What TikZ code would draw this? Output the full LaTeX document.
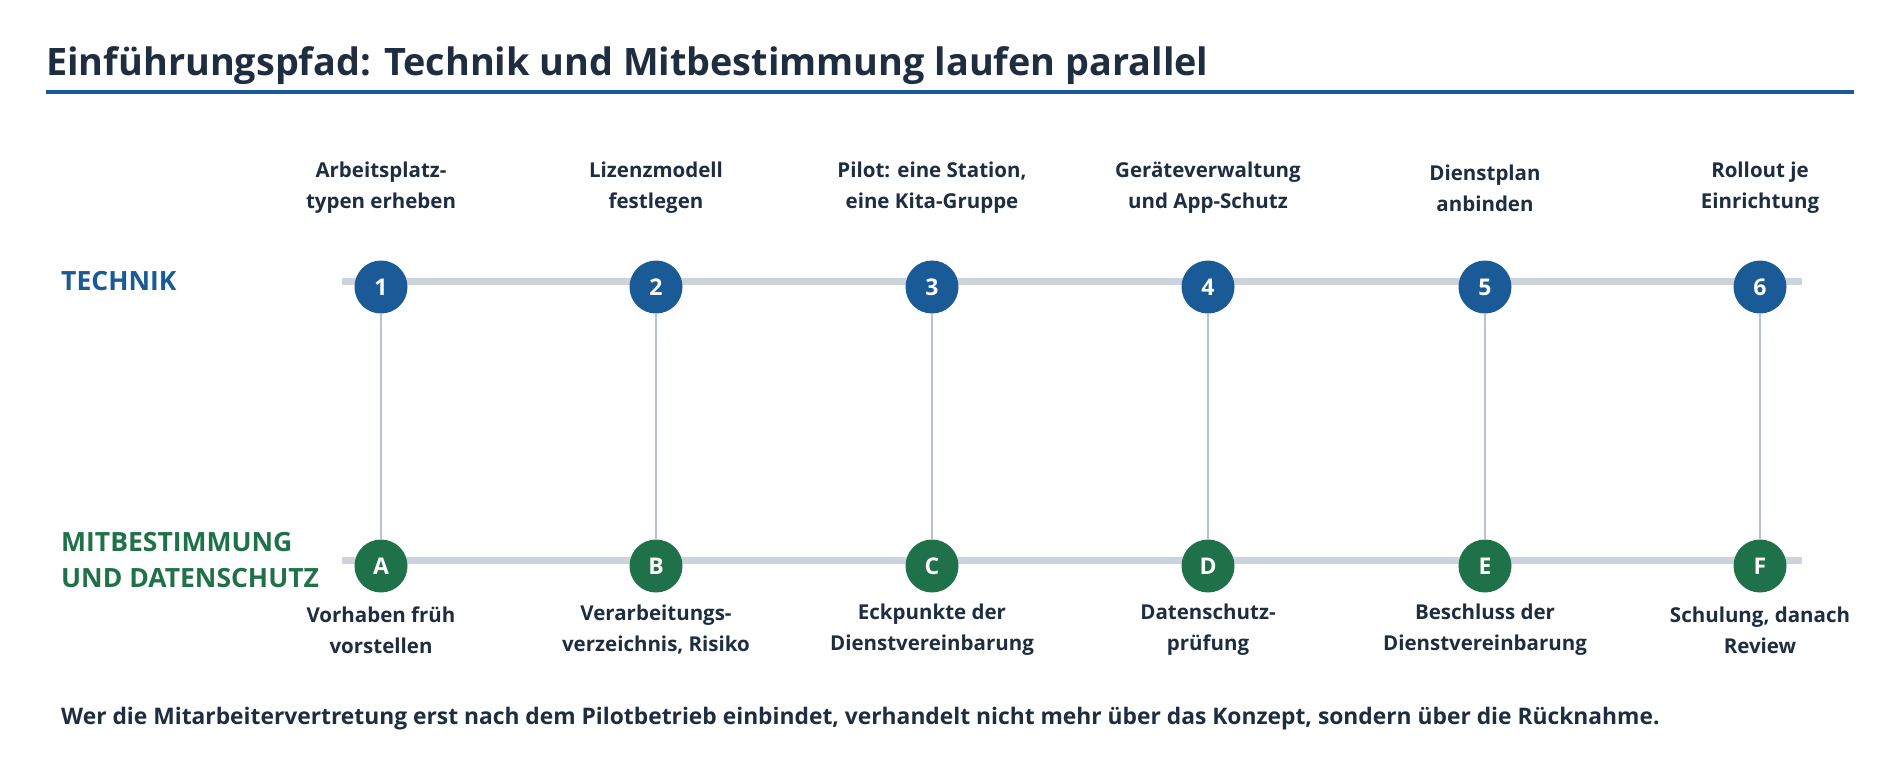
\documentclass[tikz,border=0pt]{standalone}
\usepackage{fontspec}
\setmainfont{Open Sans}
\definecolor{tblue}{HTML}{1A5A96}
\definecolor{tgreen}{HTML}{1F7149}
\definecolor{ink}{HTML}{1F2D40}
\definecolor{rail}{HTML}{CDD3DC}
\definecolor{conn}{HTML}{B9C3CF}
\begin{document}
\begin{tikzpicture}[x=1pt,y=-1pt,
  dot/.style={circle,minimum size=53pt,inner sep=0pt,text=white,font=\fontsize{23}{23}\selectfont\bfseries},
  lab/.style={align=center,text=ink,font=\fontsize{20.5}{31}\selectfont\bfseries},
  lane/.style={anchor=west,align=left,inner sep=0pt,font=\fontsize{26.5}{36}\selectfont\bfseries}]
\useasboundingbox (0,0) rectangle (1900,780);
\node[anchor=base west,text=ink,font=\fontsize{37.8}{38}\selectfont\bfseries,inner sep=0] (title) at (46,75) {Einführungspfad: Technik und Mitbestimmung laufen parallel};
\draw[tblue,line width=3.5pt] (46,92) -- (1854,92);
\node[lane,text=tblue] (tl) at (61,281) {TECHNIK};
\node[lane,text=tgreen] (ml) at (61,560) {MITBESTIMMUNG\\UND DATENSCHUTZ};
\coordinate (t0) at (342,281); \coordinate (t1) at (1802,281);
\coordinate (m0) at (342,560); \coordinate (m1) at (1802,560);
\draw[rail,line width=7pt] (t0) -- (t1);
\draw[rail,line width=7pt] (m0) -- (m1);
\foreach \i/\x/\n/\l/\tt/\bt in {
 1/381/1/A/{Arbeitsplatz-\\typen erheben}/{Vorhaben früh\\vorstellen},
 2/656/2/B/{Lizenzmodell\\festlegen}/{Verarbeitungs-\\verzeichnis, Risiko},
 3/932/3/C/{Pilot: eine Station,\\eine Kita-Gruppe}/{Eckpunkte der\\Dienstvereinbarung},
 4/1208/4/D/{Geräteverwaltung\\und App-Schutz}/{Datenschutz-\\prüfung},
 5/1485/5/E/{Dienstplan\\anbinden}/{Beschluss der\\Dienstvereinbarung},
 6/1760/6/F/{Rollout je\\Einrichtung}/{Schulung, danach\\Review}}{
  \node[dot,fill=tblue] (t\i) at (\x,287) {\n};
  \node[dot,fill=tgreen] (m\i) at (\x,566) {\l};
  \draw[conn,line width=2pt] (t\i) -- (m\i);
  \node[lab] (tl\i) at (\x,188) {\tt};
  \node[lab] (bl\i) at (\x,630) {\bt};
}
\node[anchor=base west,text=ink,font=\fontsize{22.8}{23}\selectfont\bfseries,inner sep=0] (foot) at (61,724) {Wer die Mitarbeitervertretung erst nach dem Pilotbetrieb einbindet, verhandelt nicht mehr über das Konzept, sondern über die Rücknahme.};
\end{tikzpicture}
\end{document}
